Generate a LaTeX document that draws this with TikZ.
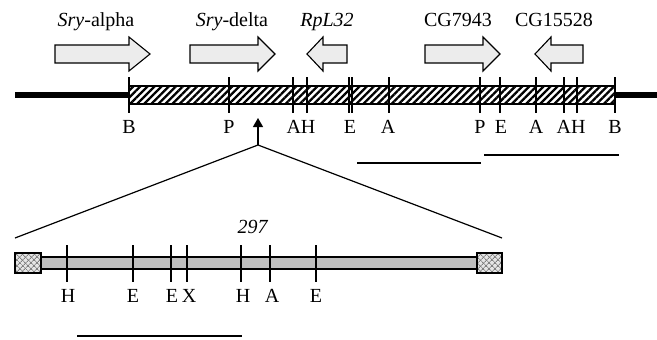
\documentclass[tikz,border=0pt]{standalone}
\usepackage{fontspec}
\setmainfont{Liberation Serif}
\usetikzlibrary{patterns,patterns.meta,arrows.meta}
\begin{document}
\begin{tikzpicture}[x=1pt,y=-1pt,
  lbl/.style={font=\fontsize{20}{22}\selectfont, inner sep=0pt, anchor=base},
  genearrow/.style={draw=black, line width=1.1pt, fill=gray!15, line join=miter},
  tick/.style={line width=1.4pt},
  bar/.style={line width=2pt},
  zoomline/.style={line width=1.2pt}]
\useasboundingbox (0,0) rectangle (657,340);
% top map
\draw[line width=6pt] (15,95) -- (129,95);
\draw[line width=6pt] (615,95) -- (657,95);
\fill[white] (129,86) rectangle (615,104);
\fill[pattern={Lines[angle=45,distance=5pt,line width=2.3pt]}, pattern color=black] (129,86) rectangle (615,104);
\draw[line width=1.4pt] (129,86) rectangle (615,104);
\foreach \x in {129,229,293,307,349,352,389,480,500,536,564,577,615}
  \draw[tick] (\x,77) -- (\x,113);
\foreach \x/\t in {129/B,229/P,301/AH,350/E,388/A,480/P,501/E,536/A,571/AH,615/B}
  \node[lbl] at (\x,133) {\t};
% gene arrows
\draw[genearrow] (55,45) -- (129,45) -- (129,37) -- (150,54) -- (129,71) -- (129,63) -- (55,63) -- cycle;
\draw[genearrow] (190,45) -- (258,45) -- (258,37) -- (275,54) -- (258,71) -- (258,63) -- (190,63) -- cycle;
\draw[genearrow] (347,45) -- (323,45) -- (323,37) -- (307,54) -- (323,71) -- (323,63) -- (347,63) -- cycle;
\draw[genearrow] (425,45) -- (483,45) -- (483,37) -- (500,54) -- (483,71) -- (483,63) -- (425,63) -- cycle;
\draw[genearrow] (583,45) -- (551,45) -- (551,37) -- (535,54) -- (551,71) -- (551,63) -- (583,63) -- cycle;
\node[lbl] (sa) at (96,27) {\textit{Sry}-alpha};
\node[lbl] (sd) at (232,27) {\textit{Sry}-delta};
\node[lbl] (rp) at (327,27) {\textit{RpL32}};
\node[lbl] (cg1) at (458,27) {CG7943};
\node[lbl] (cg2) at (554,27) {CG15528};
% scale bars
\draw[bar] (357,163) -- (481,163);
\draw[bar] (484,155) -- (619,155);
% expansion
\coordinate (apex) at (258,145);
\coordinate (tip) at (258,118);
\coordinate (zl) at (15,238);
\coordinate (zr) at (502,238);
\draw[line width=1.3pt, -{Triangle[length=9pt,width=10pt]}] (apex) -- (tip);
\draw[zoomline] (zl) -- (apex) -- (zr);
% bottom map
\filldraw[line width=1.4pt, fill=gray!50] (41,257) rectangle (477,269);
\foreach \a/\b in {15/41,477/502}{
  \fill[gray!20] (\a,253) rectangle (\b,273);
  \fill[pattern={Lines[angle=45,distance=4pt,line width=0.9pt]}, pattern color=gray] (\a,253) rectangle (\b,273);
  \fill[pattern={Lines[angle=-45,distance=4pt,line width=0.9pt]}, pattern color=gray] (\a,253) rectangle (\b,273);
  \draw[line width=1.4pt] (\a,253) rectangle (\b,273);
}
\foreach \x in {67,133,171,187,241,270,316}
  \draw[tick] (\x,245) -- (\x,282);
\foreach \x/\t in {68/H,133/E,172/E,189/X,243/H,272/A,316/E}
  \node[lbl] at (\x,302) {\t};
\node[lbl] (n297) at (253,233) {\textit{297}};
\draw[bar] (77,336) -- (242,336);
\end{tikzpicture}
\end{document}
